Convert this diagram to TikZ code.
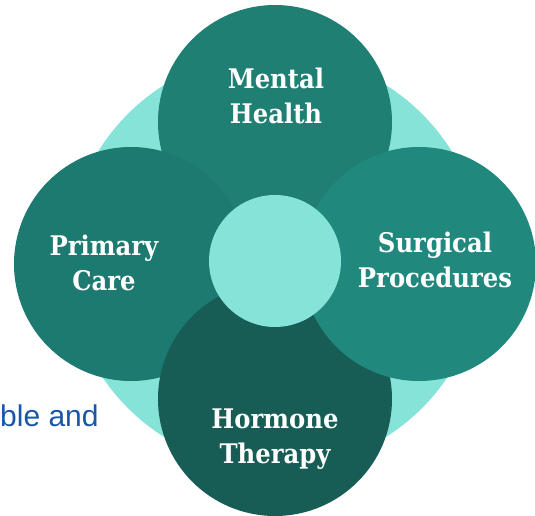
\documentclass[tikz,border=0pt]{standalone}
\usepackage{fontspec}
\setsansfont{Liberation Sans}
\newfontfamily\capfont{DejaVu Serif}[FakeStretch=0.9]

\definecolor{mint}{HTML}{85E3D8}
\definecolor{tealtop}{HTML}{1F7F73}
\definecolor{tealleft}{HTML}{1D7A70}
\definecolor{tealright}{HTML}{20887D}
\definecolor{tealdark}{HTML}{175D55}
\definecolor{linkblue}{HTML}{1A56A8}

\begin{document}
\begin{tikzpicture}[x=1pt, y=-1pt,
    petal/.style={circle, draw=none, inner sep=0pt, minimum size=234pt},
    caption/.style={text=white, align=center, inner sep=0pt,
        font=\capfont\fontsize{27}{35}\selectfont\bfseries}
]
% Set manual bounding box
\useasboundingbox (0,0) rectangle (535,516);

% Background disc
\node[circle, fill=mint, inner sep=0pt, minimum size=416pt] (back) at (275,261) {};

% Petals, back to front
\node[petal, fill=tealtop]   (mental)   at (275,122) {};
\node[petal, fill=tealleft]  (primary)  at (131,264) {};
\node[petal, fill=tealdark]  (hormone)  at (275,399) {};
\node[petal, fill=tealright] (surgical) at (419,264) {};

% Hub
\node[circle, fill=mint, inner sep=0pt, minimum size=132pt] (hub) at (275,261) {};

% Captions
\node[caption] (mentaltext)   at (276,96)  {Mental\\Health};
\node[caption] (primarytext)  at (104,263) {Primary\\Care};
\node[caption] (surgicaltext) at (435,260) {Surgical\\Procedures};
\node[caption] (hormonetext)  at (275,439) {Hormone\\Therapy};

% Text running in from the left
\node[anchor=base west, inner sep=0pt, text=linkblue,
      font=\sffamily\fontsize{30}{36}\selectfont] (sidetext) at (0,426) {ble and};

\end{tikzpicture}
\end{document}
